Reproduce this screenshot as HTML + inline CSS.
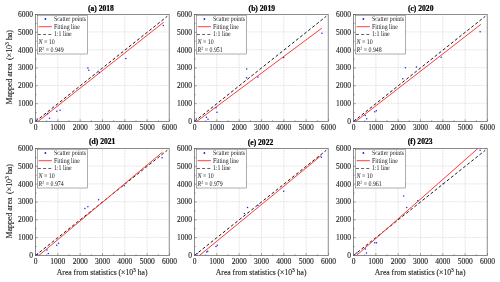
<!DOCTYPE html>
<html><head><meta charset="utf-8"><title>Scatter</title>
<style>html,body{margin:0;padding:0;background:#fff}svg{display:block}
text{font-family:"Liberation Serif",serif;fill:#1c1c1c;stroke:#1c1c1c;stroke-width:0.12px}
.tk{font-size:7.5px}.lg{font-size:5.9px;stroke:none;fill:#222;text-rendering:geometricPrecision}.ti{font-size:7.6px;font-weight:bold;fill:#000;stroke:#000;stroke-width:0.22px}.al{font-size:7.65px}
</style></head><body>
<svg width="500" height="282" viewBox="0 0 500 282" style="will-change:transform">
<rect width="500" height="282" fill="#fff"/>
<g>
<path d="M57.83 14.5V121.5M35.5 103.27H169.5M80.17 14.5V121.5M35.5 85.43H169.5M102.50 14.5V121.5M35.5 67.60H169.5M124.83 14.5V121.5M35.5 49.77H169.5M147.17 14.5V121.5M35.5 31.93H169.5" stroke="#cdcdcd" stroke-width="0.6" stroke-dasharray="0.9 0.6" fill="none"/>
<line x1="35.5" y1="121.5" x2="167.27" y2="16.28" stroke="#111" stroke-width="0.95" stroke-dasharray="3 2.2"/>
<line x1="37.9" y1="121.5" x2="163.8" y2="22.15" stroke="#ff3a3a" stroke-width="1"/>
<circle cx="37.10" cy="119.05" r="0.75" fill="#2020ff"/>
<circle cx="47.55" cy="113.85" r="0.75" fill="#2020ff"/>
<circle cx="49.50" cy="118.35" r="0.75" fill="#2020ff"/>
<circle cx="56.80" cy="111.25" r="0.75" fill="#2020ff"/>
<circle cx="60.00" cy="110.35" r="0.75" fill="#2020ff"/>
<circle cx="87.90" cy="67.95" r="0.75" fill="#2020ff"/>
<circle cx="88.80" cy="70.15" r="0.75" fill="#2020ff"/>
<circle cx="99.40" cy="72.45" r="0.75" fill="#2020ff"/>
<circle cx="125.90" cy="58.55" r="0.75" fill="#2020ff"/>
<circle cx="163.30" cy="25.45" r="0.75" fill="#2020ff"/>
<rect x="35.5" y="14.5" width="133.7" height="107.0" fill="none" stroke="#666" stroke-width="0.75"/>
<path d="M35.50 121.5v-2.2M35.5 121.50h2.2M46.67 121.5v-1.2M35.5 112.58h1.2M57.83 121.5v-2.2M35.5 103.67h2.2M69.00 121.5v-1.2M35.5 94.75h1.2M80.17 121.5v-2.2M35.5 85.83h2.2M91.33 121.5v-1.2M35.5 76.92h1.2M102.50 121.5v-2.2M35.5 68.00h2.2M113.67 121.5v-1.2M35.5 59.08h1.2M124.83 121.5v-2.2M35.5 50.17h2.2M136.00 121.5v-1.2M35.5 41.25h1.2M147.17 121.5v-2.2M35.5 32.33h2.2M158.33 121.5v-1.2M35.5 23.42h1.2M169.50 121.5v-2.2M35.5 14.50h2.2" stroke="#5c5c5c" stroke-width="0.6" fill="none"/>
<text class="tk" x="35.50" y="129.55" text-anchor="middle">0</text>
<text class="tk" x="33.00" y="123.85" text-anchor="end">0</text>
<text class="tk" x="57.83" y="129.55" text-anchor="middle">1000</text>
<text class="tk" x="33.00" y="106.02" text-anchor="end">1000</text>
<text class="tk" x="80.17" y="129.55" text-anchor="middle">2000</text>
<text class="tk" x="33.00" y="88.18" text-anchor="end">2000</text>
<text class="tk" x="102.50" y="129.55" text-anchor="middle">3000</text>
<text class="tk" x="33.00" y="70.35" text-anchor="end">3000</text>
<text class="tk" x="124.83" y="129.55" text-anchor="middle">4000</text>
<text class="tk" x="33.00" y="52.52" text-anchor="end">4000</text>
<text class="tk" x="147.17" y="129.55" text-anchor="middle">5000</text>
<text class="tk" x="33.00" y="34.68" text-anchor="end">5000</text>
<text class="tk" x="169.50" y="129.55" text-anchor="middle">6000</text>
<text class="tk" x="33.00" y="16.85" text-anchor="end">6000</text>
<text class="ti" x="100.90" y="10.70" text-anchor="middle">(a) 2018</text>
<rect x="37.5" y="15.2" width="50" height="38.8" fill="#fff" stroke="#5c5c5c" stroke-width="0.5"/>
<circle cx="45.4" cy="19.0" r="0.9" fill="#1a1aff"/>
<line x1="38.6" y1="26.7" x2="51.9" y2="26.7" stroke="#ff2a2a" stroke-width="0.9"/>
<line x1="37.9" y1="34.5" x2="51.9" y2="34.5" stroke="#222" stroke-width="0.7" stroke-dasharray="3 2.2"/>
<text class="lg" transform="translate(53.90 21.00) scale(1 1.2)">Scatter points</text>
<text class="lg" transform="translate(53.90 28.70) scale(1 1.2)">Fitting line</text>
<text class="lg" transform="translate(53.90 36.10) scale(1 1.2)">1:1 line</text>
<text class="lg" transform="translate(38.60 43.80) scale(1 1.2)"><tspan font-style="italic">N</tspan> = 10</text>
<text class="lg" transform="translate(38.60 52.40) scale(1 1.2)"><tspan font-style="italic">R</tspan><tspan font-size="4px" dy="-2.3">2</tspan><tspan dy="2.3"> = 0.949</tspan></text>
<text class="al" style="font-size:7.9px" transform="translate(12 104.55) rotate(-90)" text-anchor="start">Mapped area <tspan dx="1.7">(×10</tspan><tspan font-size="5.8px" dy="-3.1">3</tspan><tspan dy="3.1"> ha)</tspan></text>
</g>
<g>
<path d="M216.83 14.5V121.5M194.5 103.27H328.5M239.17 14.5V121.5M194.5 85.43H328.5M261.50 14.5V121.5M194.5 67.60H328.5M283.83 14.5V121.5M194.5 49.77H328.5M306.17 14.5V121.5M194.5 31.93H328.5" stroke="#cdcdcd" stroke-width="0.6" stroke-dasharray="0.9 0.6" fill="none"/>
<line x1="194.5" y1="121.5" x2="326.27" y2="16.28" stroke="#111" stroke-width="0.95" stroke-dasharray="3 2.2"/>
<line x1="196.6" y1="121.5" x2="321.9" y2="28.1" stroke="#ff3a3a" stroke-width="1"/>
<circle cx="196.30" cy="119.05" r="0.75" fill="#2020ff"/>
<circle cx="206.50" cy="117.35" r="0.75" fill="#2020ff"/>
<circle cx="208.00" cy="119.35" r="0.75" fill="#2020ff"/>
<circle cx="216.00" cy="107.75" r="0.75" fill="#2020ff"/>
<circle cx="217.00" cy="112.25" r="0.75" fill="#2020ff"/>
<circle cx="246.70" cy="68.95" r="0.75" fill="#2020ff"/>
<circle cx="246.50" cy="77.65" r="0.75" fill="#2020ff"/>
<circle cx="257.80" cy="76.95" r="0.75" fill="#2020ff"/>
<circle cx="283.60" cy="57.55" r="0.75" fill="#2020ff"/>
<circle cx="321.90" cy="33.25" r="0.75" fill="#2020ff"/>
<rect x="194.5" y="14.5" width="133.7" height="107.0" fill="none" stroke="#666" stroke-width="0.75"/>
<path d="M194.50 121.5v-2.2M194.5 121.50h2.2M205.67 121.5v-1.2M194.5 112.58h1.2M216.83 121.5v-2.2M194.5 103.67h2.2M228.00 121.5v-1.2M194.5 94.75h1.2M239.17 121.5v-2.2M194.5 85.83h2.2M250.33 121.5v-1.2M194.5 76.92h1.2M261.50 121.5v-2.2M194.5 68.00h2.2M272.67 121.5v-1.2M194.5 59.08h1.2M283.83 121.5v-2.2M194.5 50.17h2.2M295.00 121.5v-1.2M194.5 41.25h1.2M306.17 121.5v-2.2M194.5 32.33h2.2M317.33 121.5v-1.2M194.5 23.42h1.2M328.50 121.5v-2.2M194.5 14.50h2.2" stroke="#5c5c5c" stroke-width="0.6" fill="none"/>
<text class="tk" x="194.50" y="129.55" text-anchor="middle">0</text>
<text class="tk" x="192.00" y="123.85" text-anchor="end">0</text>
<text class="tk" x="216.83" y="129.55" text-anchor="middle">1000</text>
<text class="tk" x="192.00" y="106.02" text-anchor="end">1000</text>
<text class="tk" x="239.17" y="129.55" text-anchor="middle">2000</text>
<text class="tk" x="192.00" y="88.18" text-anchor="end">2000</text>
<text class="tk" x="261.50" y="129.55" text-anchor="middle">3000</text>
<text class="tk" x="192.00" y="70.35" text-anchor="end">3000</text>
<text class="tk" x="283.83" y="129.55" text-anchor="middle">4000</text>
<text class="tk" x="192.00" y="52.52" text-anchor="end">4000</text>
<text class="tk" x="306.17" y="129.55" text-anchor="middle">5000</text>
<text class="tk" x="192.00" y="34.68" text-anchor="end">5000</text>
<text class="tk" x="328.50" y="129.55" text-anchor="middle">6000</text>
<text class="tk" x="192.00" y="16.85" text-anchor="end">6000</text>
<text class="ti" x="261.80" y="11.10" text-anchor="middle">(b) 2019</text>
<rect x="196.5" y="15.2" width="50" height="38.8" fill="#fff" stroke="#5c5c5c" stroke-width="0.5"/>
<circle cx="204.4" cy="19.0" r="0.9" fill="#1a1aff"/>
<line x1="197.6" y1="26.7" x2="210.9" y2="26.7" stroke="#ff2a2a" stroke-width="0.9"/>
<line x1="196.9" y1="34.5" x2="210.9" y2="34.5" stroke="#222" stroke-width="0.7" stroke-dasharray="3 2.2"/>
<text class="lg" transform="translate(212.90 21.00) scale(1 1.2)">Scatter points</text>
<text class="lg" transform="translate(212.90 28.70) scale(1 1.2)">Fitting line</text>
<text class="lg" transform="translate(212.90 36.10) scale(1 1.2)">1:1 line</text>
<text class="lg" transform="translate(197.60 43.80) scale(1 1.2)"><tspan font-style="italic">N</tspan> = 10</text>
<text class="lg" transform="translate(197.60 52.40) scale(1 1.2)"><tspan font-style="italic">R</tspan><tspan font-size="4px" dy="-2.3">2</tspan><tspan dy="2.3"> = 0.951</tspan></text>
</g>
<g>
<path d="M375.83 14.5V121.5M353.5 103.27H487.5M398.17 14.5V121.5M353.5 85.43H487.5M420.50 14.5V121.5M353.5 67.60H487.5M442.83 14.5V121.5M353.5 49.77H487.5M465.17 14.5V121.5M353.5 31.93H487.5" stroke="#cdcdcd" stroke-width="0.6" stroke-dasharray="0.9 0.6" fill="none"/>
<line x1="353.5" y1="121.5" x2="485.27" y2="16.28" stroke="#111" stroke-width="0.95" stroke-dasharray="3 2.2"/>
<line x1="355.6" y1="121.5" x2="480.9" y2="24.4" stroke="#ff3a3a" stroke-width="1"/>
<circle cx="355.60" cy="119.85" r="0.75" fill="#2020ff"/>
<circle cx="365.30" cy="115.45" r="0.75" fill="#2020ff"/>
<circle cx="366.70" cy="118.65" r="0.75" fill="#2020ff"/>
<circle cx="374.80" cy="111.75" r="0.75" fill="#2020ff"/>
<circle cx="376.40" cy="110.65" r="0.75" fill="#2020ff"/>
<circle cx="402.80" cy="78.85" r="0.75" fill="#2020ff"/>
<circle cx="405.40" cy="67.75" r="0.75" fill="#2020ff"/>
<circle cx="416.50" cy="66.95" r="0.75" fill="#2020ff"/>
<circle cx="441.20" cy="57.35" r="0.75" fill="#2020ff"/>
<circle cx="480.10" cy="31.75" r="0.75" fill="#2020ff"/>
<rect x="353.5" y="14.5" width="133.7" height="107.0" fill="none" stroke="#666" stroke-width="0.75"/>
<path d="M353.50 121.5v-2.2M353.5 121.50h2.2M364.67 121.5v-1.2M353.5 112.58h1.2M375.83 121.5v-2.2M353.5 103.67h2.2M387.00 121.5v-1.2M353.5 94.75h1.2M398.17 121.5v-2.2M353.5 85.83h2.2M409.33 121.5v-1.2M353.5 76.92h1.2M420.50 121.5v-2.2M353.5 68.00h2.2M431.67 121.5v-1.2M353.5 59.08h1.2M442.83 121.5v-2.2M353.5 50.17h2.2M454.00 121.5v-1.2M353.5 41.25h1.2M465.17 121.5v-2.2M353.5 32.33h2.2M476.33 121.5v-1.2M353.5 23.42h1.2M487.50 121.5v-2.2M353.5 14.50h2.2" stroke="#5c5c5c" stroke-width="0.6" fill="none"/>
<text class="tk" x="353.50" y="129.55" text-anchor="middle">0</text>
<text class="tk" x="351.00" y="123.85" text-anchor="end">0</text>
<text class="tk" x="375.83" y="129.55" text-anchor="middle">1000</text>
<text class="tk" x="351.00" y="106.02" text-anchor="end">1000</text>
<text class="tk" x="398.17" y="129.55" text-anchor="middle">2000</text>
<text class="tk" x="351.00" y="88.18" text-anchor="end">2000</text>
<text class="tk" x="420.50" y="129.55" text-anchor="middle">3000</text>
<text class="tk" x="351.00" y="70.35" text-anchor="end">3000</text>
<text class="tk" x="442.83" y="129.55" text-anchor="middle">4000</text>
<text class="tk" x="351.00" y="52.52" text-anchor="end">4000</text>
<text class="tk" x="465.17" y="129.55" text-anchor="middle">5000</text>
<text class="tk" x="351.00" y="34.68" text-anchor="end">5000</text>
<text class="tk" x="487.50" y="129.55" text-anchor="middle">6000</text>
<text class="tk" x="351.00" y="16.85" text-anchor="end">6000</text>
<text class="ti" x="420.70" y="11.10" text-anchor="middle">(c) 2020</text>
<rect x="355.5" y="15.2" width="50" height="38.8" fill="#fff" stroke="#5c5c5c" stroke-width="0.5"/>
<circle cx="363.4" cy="19.0" r="0.9" fill="#1a1aff"/>
<line x1="356.6" y1="26.7" x2="369.9" y2="26.7" stroke="#ff2a2a" stroke-width="0.9"/>
<line x1="355.9" y1="34.5" x2="369.9" y2="34.5" stroke="#222" stroke-width="0.7" stroke-dasharray="3 2.2"/>
<text class="lg" transform="translate(371.90 21.00) scale(1 1.2)">Scatter points</text>
<text class="lg" transform="translate(371.90 28.70) scale(1 1.2)">Fitting line</text>
<text class="lg" transform="translate(371.90 36.10) scale(1 1.2)">1:1 line</text>
<text class="lg" transform="translate(356.60 43.80) scale(1 1.2)"><tspan font-style="italic">N</tspan> = 10</text>
<text class="lg" transform="translate(356.60 52.40) scale(1 1.2)"><tspan font-style="italic">R</tspan><tspan font-size="4px" dy="-2.3">2</tspan><tspan dy="2.3"> = 0.948</tspan></text>
</g>
<g>
<path d="M57.83 148.5V255.5M35.5 237.42H169.5M80.17 148.5V255.5M35.5 219.58H169.5M102.50 148.5V255.5M35.5 201.75H169.5M124.83 148.5V255.5M35.5 183.92H169.5M147.17 148.5V255.5M35.5 166.08H169.5" stroke="#cdcdcd" stroke-width="0.6" stroke-dasharray="0.9 0.6" fill="none"/>
<line x1="35.5" y1="255.5" x2="167.27" y2="150.28" stroke="#111" stroke-width="0.95" stroke-dasharray="3 2.2"/>
<line x1="38.8" y1="255.5" x2="162.4" y2="152.2" stroke="#ff3a3a" stroke-width="1"/>
<circle cx="37.60" cy="254.15" r="0.75" fill="#2020ff"/>
<circle cx="47.00" cy="250.05" r="0.75" fill="#2020ff"/>
<circle cx="48.30" cy="253.45" r="0.75" fill="#2020ff"/>
<circle cx="56.70" cy="245.35" r="0.75" fill="#2020ff"/>
<circle cx="58.50" cy="243.25" r="0.75" fill="#2020ff"/>
<circle cx="84.90" cy="208.45" r="0.75" fill="#2020ff"/>
<circle cx="87.90" cy="206.75" r="0.75" fill="#2020ff"/>
<circle cx="98.60" cy="199.75" r="0.75" fill="#2020ff"/>
<circle cx="124.20" cy="185.65" r="0.75" fill="#2020ff"/>
<circle cx="162.10" cy="157.75" r="0.75" fill="#2020ff"/>
<rect x="35.5" y="148.5" width="133.7" height="107.0" fill="none" stroke="#666" stroke-width="0.75"/>
<path d="M35.50 255.5v-2.2M35.5 255.50h2.2M46.67 255.5v-1.2M35.5 246.58h1.2M57.83 255.5v-2.2M35.5 237.67h2.2M69.00 255.5v-1.2M35.5 228.75h1.2M80.17 255.5v-2.2M35.5 219.83h2.2M91.33 255.5v-1.2M35.5 210.92h1.2M102.50 255.5v-2.2M35.5 202.00h2.2M113.67 255.5v-1.2M35.5 193.08h1.2M124.83 255.5v-2.2M35.5 184.17h2.2M136.00 255.5v-1.2M35.5 175.25h1.2M147.17 255.5v-2.2M35.5 166.33h2.2M158.33 255.5v-1.2M35.5 157.42h1.2M169.50 255.5v-2.2M35.5 148.50h2.2" stroke="#5c5c5c" stroke-width="0.6" fill="none"/>
<text class="tk" x="35.50" y="263.55" text-anchor="middle">0</text>
<text class="tk" x="33.00" y="257.85" text-anchor="end">0</text>
<text class="tk" x="57.83" y="263.55" text-anchor="middle">1000</text>
<text class="tk" x="33.00" y="240.02" text-anchor="end">1000</text>
<text class="tk" x="80.17" y="263.55" text-anchor="middle">2000</text>
<text class="tk" x="33.00" y="222.18" text-anchor="end">2000</text>
<text class="tk" x="102.50" y="263.55" text-anchor="middle">3000</text>
<text class="tk" x="33.00" y="204.35" text-anchor="end">3000</text>
<text class="tk" x="124.83" y="263.55" text-anchor="middle">4000</text>
<text class="tk" x="33.00" y="186.52" text-anchor="end">4000</text>
<text class="tk" x="147.17" y="263.55" text-anchor="middle">5000</text>
<text class="tk" x="33.00" y="168.68" text-anchor="end">5000</text>
<text class="tk" x="169.50" y="263.55" text-anchor="middle">6000</text>
<text class="tk" x="33.00" y="150.85" text-anchor="end">6000</text>
<text class="ti" x="102.20" y="144.00" text-anchor="middle">(d) 2021</text>
<rect x="37.5" y="149.2" width="50" height="38.8" fill="#fff" stroke="#5c5c5c" stroke-width="0.5"/>
<circle cx="45.4" cy="153.0" r="0.9" fill="#1a1aff"/>
<line x1="38.6" y1="160.7" x2="51.9" y2="160.7" stroke="#ff2a2a" stroke-width="0.9"/>
<line x1="37.9" y1="168.5" x2="51.9" y2="168.5" stroke="#222" stroke-width="0.7" stroke-dasharray="3 2.2"/>
<text class="lg" transform="translate(53.90 155.00) scale(1 1.2)">Scatter points</text>
<text class="lg" transform="translate(53.90 162.70) scale(1 1.2)">Fitting line</text>
<text class="lg" transform="translate(53.90 170.10) scale(1 1.2)">1:1 line</text>
<text class="lg" transform="translate(38.60 177.80) scale(1 1.2)"><tspan font-style="italic">N</tspan> = 10</text>
<text class="lg" transform="translate(38.60 186.40) scale(1 1.2)"><tspan font-style="italic">R</tspan><tspan font-size="4px" dy="-2.3">2</tspan><tspan dy="2.3"> = 0.974</tspan></text>
<text class="al" x="102.20" y="275.10" text-anchor="middle">Area from statistics (×10<tspan font-size="5.6px" dy="-3">3</tspan><tspan dy="3"> ha)</tspan></text>
<text class="al" style="font-size:7.9px" transform="translate(12 238.55) rotate(-90)" text-anchor="start">Mapped area <tspan dx="1.7">(×10</tspan><tspan font-size="5.8px" dy="-3.1">3</tspan><tspan dy="3.1"> ha)</tspan></text>
</g>
<g>
<path d="M216.83 148.5V255.5M194.5 237.42H328.5M239.17 148.5V255.5M194.5 219.58H328.5M261.50 148.5V255.5M194.5 201.75H328.5M283.83 148.5V255.5M194.5 183.92H328.5M306.17 148.5V255.5M194.5 166.08H328.5" stroke="#cdcdcd" stroke-width="0.6" stroke-dasharray="0.9 0.6" fill="none"/>
<line x1="194.5" y1="255.5" x2="326.27" y2="150.28" stroke="#111" stroke-width="0.95" stroke-dasharray="3 2.2"/>
<line x1="199.4" y1="255.5" x2="321.4" y2="155.4" stroke="#ff3a3a" stroke-width="1"/>
<circle cx="197.10" cy="253.75" r="0.75" fill="#2020ff"/>
<circle cx="206.70" cy="252.05" r="0.75" fill="#2020ff"/>
<circle cx="207.70" cy="251.15" r="0.75" fill="#2020ff"/>
<circle cx="216.00" cy="246.55" r="0.75" fill="#2020ff"/>
<circle cx="217.30" cy="245.35" r="0.75" fill="#2020ff"/>
<circle cx="244.40" cy="213.45" r="0.75" fill="#2020ff"/>
<circle cx="247.50" cy="207.55" r="0.75" fill="#2020ff"/>
<circle cx="258.00" cy="205.15" r="0.75" fill="#2020ff"/>
<circle cx="283.70" cy="191.15" r="0.75" fill="#2020ff"/>
<circle cx="321.40" cy="157.35" r="0.75" fill="#2020ff"/>
<rect x="194.5" y="148.5" width="133.7" height="107.0" fill="none" stroke="#666" stroke-width="0.75"/>
<path d="M194.50 255.5v-2.2M194.5 255.50h2.2M205.67 255.5v-1.2M194.5 246.58h1.2M216.83 255.5v-2.2M194.5 237.67h2.2M228.00 255.5v-1.2M194.5 228.75h1.2M239.17 255.5v-2.2M194.5 219.83h2.2M250.33 255.5v-1.2M194.5 210.92h1.2M261.50 255.5v-2.2M194.5 202.00h2.2M272.67 255.5v-1.2M194.5 193.08h1.2M283.83 255.5v-2.2M194.5 184.17h2.2M295.00 255.5v-1.2M194.5 175.25h1.2M306.17 255.5v-2.2M194.5 166.33h2.2M317.33 255.5v-1.2M194.5 157.42h1.2M328.50 255.5v-2.2M194.5 148.50h2.2" stroke="#5c5c5c" stroke-width="0.6" fill="none"/>
<text class="tk" x="194.50" y="263.55" text-anchor="middle">0</text>
<text class="tk" x="192.00" y="257.85" text-anchor="end">0</text>
<text class="tk" x="216.83" y="263.55" text-anchor="middle">1000</text>
<text class="tk" x="192.00" y="240.02" text-anchor="end">1000</text>
<text class="tk" x="239.17" y="263.55" text-anchor="middle">2000</text>
<text class="tk" x="192.00" y="222.18" text-anchor="end">2000</text>
<text class="tk" x="261.50" y="263.55" text-anchor="middle">3000</text>
<text class="tk" x="192.00" y="204.35" text-anchor="end">3000</text>
<text class="tk" x="283.83" y="263.55" text-anchor="middle">4000</text>
<text class="tk" x="192.00" y="186.52" text-anchor="end">4000</text>
<text class="tk" x="306.17" y="263.55" text-anchor="middle">5000</text>
<text class="tk" x="192.00" y="168.68" text-anchor="end">5000</text>
<text class="tk" x="328.50" y="263.55" text-anchor="middle">6000</text>
<text class="tk" x="192.00" y="150.85" text-anchor="end">6000</text>
<text class="ti" x="260.50" y="144.50" text-anchor="middle">(e) 2022</text>
<rect x="196.5" y="149.2" width="50" height="38.8" fill="#fff" stroke="#5c5c5c" stroke-width="0.5"/>
<circle cx="204.4" cy="153.0" r="0.9" fill="#1a1aff"/>
<line x1="197.6" y1="160.7" x2="210.9" y2="160.7" stroke="#ff2a2a" stroke-width="0.9"/>
<line x1="196.9" y1="168.5" x2="210.9" y2="168.5" stroke="#222" stroke-width="0.7" stroke-dasharray="3 2.2"/>
<text class="lg" transform="translate(212.90 155.00) scale(1 1.2)">Scatter points</text>
<text class="lg" transform="translate(212.90 162.70) scale(1 1.2)">Fitting line</text>
<text class="lg" transform="translate(212.90 170.10) scale(1 1.2)">1:1 line</text>
<text class="lg" transform="translate(197.60 177.80) scale(1 1.2)"><tspan font-style="italic">N</tspan> = 10</text>
<text class="lg" transform="translate(197.60 186.40) scale(1 1.2)"><tspan font-style="italic">R</tspan><tspan font-size="4px" dy="-2.3">2</tspan><tspan dy="2.3"> = 0.979</tspan></text>
<text class="al" x="261.20" y="275.10" text-anchor="middle">Area from statistics (×10<tspan font-size="5.6px" dy="-3">3</tspan><tspan dy="3"> ha)</tspan></text>
</g>
<g>
<path d="M375.83 148.5V255.5M353.5 237.42H487.5M398.17 148.5V255.5M353.5 219.58H487.5M420.50 148.5V255.5M353.5 201.75H487.5M442.83 148.5V255.5M353.5 183.92H487.5M465.17 148.5V255.5M353.5 166.08H487.5" stroke="#cdcdcd" stroke-width="0.6" stroke-dasharray="0.9 0.6" fill="none"/>
<line x1="353.5" y1="255.5" x2="485.27" y2="150.28" stroke="#111" stroke-width="0.95" stroke-dasharray="3 2.2"/>
<line x1="356.5" y1="255.5" x2="477.9" y2="148.5" stroke="#ff3a3a" stroke-width="1"/>
<circle cx="356.80" cy="252.95" r="0.75" fill="#2020ff"/>
<circle cx="365.30" cy="249.05" r="0.75" fill="#2020ff"/>
<circle cx="366.50" cy="252.95" r="0.75" fill="#2020ff"/>
<circle cx="374.70" cy="242.75" r="0.75" fill="#2020ff"/>
<circle cx="376.50" cy="242.75" r="0.75" fill="#2020ff"/>
<circle cx="403.70" cy="196.05" r="0.75" fill="#2020ff"/>
<circle cx="406.70" cy="207.45" r="0.75" fill="#2020ff"/>
<circle cx="417.80" cy="200.75" r="0.75" fill="#2020ff"/>
<circle cx="443.10" cy="183.65" r="0.75" fill="#2020ff"/>
<circle cx="480.10" cy="150.25" r="0.75" fill="#2020ff"/>
<rect x="353.5" y="148.5" width="133.7" height="107.0" fill="none" stroke="#666" stroke-width="0.75"/>
<path d="M353.50 255.5v-2.2M353.5 255.50h2.2M364.67 255.5v-1.2M353.5 246.58h1.2M375.83 255.5v-2.2M353.5 237.67h2.2M387.00 255.5v-1.2M353.5 228.75h1.2M398.17 255.5v-2.2M353.5 219.83h2.2M409.33 255.5v-1.2M353.5 210.92h1.2M420.50 255.5v-2.2M353.5 202.00h2.2M431.67 255.5v-1.2M353.5 193.08h1.2M442.83 255.5v-2.2M353.5 184.17h2.2M454.00 255.5v-1.2M353.5 175.25h1.2M465.17 255.5v-2.2M353.5 166.33h2.2M476.33 255.5v-1.2M353.5 157.42h1.2M487.50 255.5v-2.2M353.5 148.50h2.2" stroke="#5c5c5c" stroke-width="0.6" fill="none"/>
<text class="tk" x="353.50" y="263.55" text-anchor="middle">0</text>
<text class="tk" x="351.00" y="257.85" text-anchor="end">0</text>
<text class="tk" x="375.83" y="263.55" text-anchor="middle">1000</text>
<text class="tk" x="351.00" y="240.02" text-anchor="end">1000</text>
<text class="tk" x="398.17" y="263.55" text-anchor="middle">2000</text>
<text class="tk" x="351.00" y="222.18" text-anchor="end">2000</text>
<text class="tk" x="420.50" y="263.55" text-anchor="middle">3000</text>
<text class="tk" x="351.00" y="204.35" text-anchor="end">3000</text>
<text class="tk" x="442.83" y="263.55" text-anchor="middle">4000</text>
<text class="tk" x="351.00" y="186.52" text-anchor="end">4000</text>
<text class="tk" x="465.17" y="263.55" text-anchor="middle">5000</text>
<text class="tk" x="351.00" y="168.68" text-anchor="end">5000</text>
<text class="tk" x="487.50" y="263.55" text-anchor="middle">6000</text>
<text class="tk" x="351.00" y="150.85" text-anchor="end">6000</text>
<text class="ti" x="420.20" y="144.30" text-anchor="middle">(f) 2023</text>
<rect x="355.5" y="149.2" width="50" height="38.8" fill="#fff" stroke="#5c5c5c" stroke-width="0.5"/>
<circle cx="363.4" cy="153.0" r="0.9" fill="#1a1aff"/>
<line x1="356.6" y1="160.7" x2="369.9" y2="160.7" stroke="#ff2a2a" stroke-width="0.9"/>
<line x1="355.9" y1="168.5" x2="369.9" y2="168.5" stroke="#222" stroke-width="0.7" stroke-dasharray="3 2.2"/>
<text class="lg" transform="translate(371.90 155.00) scale(1 1.2)">Scatter points</text>
<text class="lg" transform="translate(371.90 162.70) scale(1 1.2)">Fitting line</text>
<text class="lg" transform="translate(371.90 170.10) scale(1 1.2)">1:1 line</text>
<text class="lg" transform="translate(356.60 177.80) scale(1 1.2)"><tspan font-style="italic">N</tspan> = 10</text>
<text class="lg" transform="translate(356.60 186.40) scale(1 1.2)"><tspan font-style="italic">R</tspan><tspan font-size="4px" dy="-2.3">2</tspan><tspan dy="2.3"> = 0.961</tspan></text>
<text class="al" x="420.20" y="275.10" text-anchor="middle">Area from statistics (×10<tspan font-size="5.6px" dy="-3">3</tspan><tspan dy="3"> ha)</tspan></text>
</g>
</svg></body></html>
